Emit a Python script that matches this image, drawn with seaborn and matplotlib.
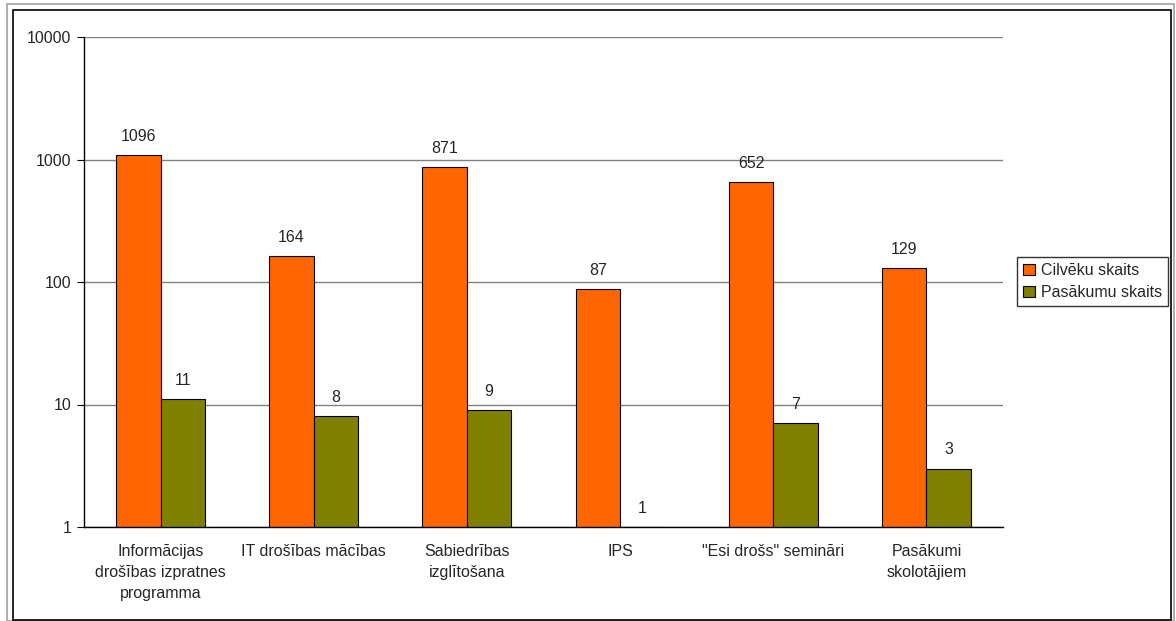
import matplotlib
matplotlib.use("Agg")
import matplotlib.pyplot as plt
from matplotlib.patches import Rectangle
import seaborn as sns
import pandas as pd

categories = [
    "Informācijas\ndrošības izpratnes\nprogramma",
    "IT drošības mācības",
    "Sabiedrības\nizglītošana",
    "IPS",
    "\"Esi drošs\" semināri",
    "Pasākumi\nskolotājiem",
]
people = [1096, 164, 871, 87, 652, 129]
events = [11, 8, 9, 1, 7, 3]
series_names = ["Cilvēku skaits", "Pasākumu skaits"]
colors = ["#FF6600", "#808000"]
y_ticks = [1, 10, 100, 1000, 10000]

df = pd.DataFrame({
    "cat": categories * 2,
    "val": people + events,
    "series": [series_names[0]] * len(categories) + [series_names[1]] * len(categories),
})

sns.set_style("white")
plt.rcParams["font.family"] = ["Liberation Sans", "DejaVu Sans"]
FS = 11.5

W, H = 1176, 621
fig = plt.figure(figsize=(W / 100, H / 100), dpi=100)
ax = fig.add_axes([84 / W, 1 - 527 / H, (1003 - 84) / W, (527 - 37) / H])
ax.set_yscale("log")

sns.barplot(data=df, x="cat", y="val", hue="series", order=categories,
            hue_order=series_names, palette=colors, width=0.58,
            edgecolor="black", linewidth=0.8, saturation=1, ax=ax,
            legend=False, errorbar=None)

ax.set_ylim(1, 10000)
ax.set_xlim(-0.5, len(categories) - 0.5)
ax.set_yticks(y_ticks)
ax.set_yticklabels([str(t) for t in y_ticks], fontsize=FS)
ax.yaxis.set_minor_locator(matplotlib.ticker.NullLocator())
ax.set_xlabel("")
ax.set_ylabel("")

# category labels at centres, tick marks at group boundaries
ax.set_xticks(range(len(categories)))
ax.set_xticklabels(categories, fontsize=FS, linespacing=1.52, va="top")
ax.tick_params(axis="x", which="major", length=0, pad=12)
ax.set_xticks([i - 0.5 for i in range(len(categories) + 1)], minor=True)
ax.tick_params(axis="x", which="minor", length=5, width=0.8, color="black", direction="out")
ax.tick_params(axis="y", which="major", length=5, width=0.8, color="black",
               direction="out", left=True, pad=4)

ax.grid(axis="y", color="#808080", linewidth=1)
ax.set_axisbelow(True)
for side in ["top", "right"]:
    ax.spines[side].set_visible(False)
for side in ["left", "bottom"]:
    ax.spines[side].set_color("black")
    ax.spines[side].set_linewidth(1)

for cont in ax.containers:
    ax.bar_label(cont, labels=[f"{v:g}" for v in cont.datavalues], padding=8, fontsize=FS)

handles = [Rectangle((0, 0), 1, 1, facecolor=c, edgecolor="black", linewidth=0.8) for c in colors]
leg = fig.legend(handles, series_names, loc="center left",
                 bbox_to_anchor=(1017 / W, 1 - 281.5 / H), fontsize=FS,
                 frameon=True, fancybox=False, handlelength=0.7, handleheight=0.7,
                 handletextpad=0.4, borderpad=0.4, labelspacing=0.45,
                 borderaxespad=0)
leg.get_frame().set_edgecolor("black")
leg.get_frame().set_linewidth(1)

# outer frames around the chart
fig.patches.append(Rectangle((7 / W, 0), (1174 - 7) / W, 1 - 4 / H, transform=fig.transFigure,
                             fill=False, edgecolor="#b0b0b0", linewidth=1.5))
fig.patches.append(Rectangle((13 / W, 1 / H), (1171 - 13) / W, (620 - 10) / H,
                             transform=fig.transFigure, fill=False, edgecolor="black",
                             linewidth=1.2))

fig.savefig("out.png", dpi=100)
